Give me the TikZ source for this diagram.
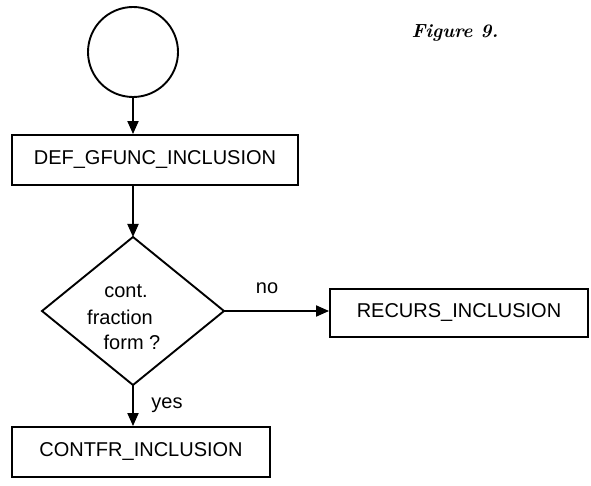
\documentclass[tikz,border=0pt]{standalone}
\usepackage{fontspec}
\setsansfont{Liberation Sans}
\usetikzlibrary{arrows.meta,shapes.geometric}
\begin{document}
\begin{tikzpicture}[x=1pt,y=-1pt,
  line width=1.9pt,
  txt/.style={font=\sffamily\fontsize{20}{22}\selectfont,inner sep=0pt},
  box/.style={draw,rectangle,txt},
  flow/.style={-{Triangle[length=13pt,width=11pt]}}]
\useasboundingbox (0,0) rectangle (591,486);
% start terminal
\node[draw,circle,minimum size=90pt,inner sep=0pt] (start) at (133,52) {};
% process boxes
\node[box,minimum width=286pt,minimum height=50pt] (def) at (155,160) {DEF\_GFUNC\_INCLUSION};
\node[box,minimum width=258pt,minimum height=50pt] (contfr) at (141,452) {CONTFR\_INCLUSION};
\node[box,minimum width=258pt,minimum height=48pt] (recurs) at (459,313) {RECURS\_INCLUSION};
% decision
\draw[line join=miter] (133,237) coordinate (dtop) -- (224,311) coordinate (dright)
  -- (133,385) coordinate (dbot) -- (42,311) coordinate (dleft) -- cycle;
\node[txt] (q1) at (126,291) {cont.};
\node[txt] (q2) at (120,317) {fraction};
\node[txt] (q3) at (132,342) {form ?};
% connectors
\draw[flow] (start.south) -- (start.south |- def.north);
\draw[flow] (def.south -| dtop) -- (dtop);
\draw[flow] (dbot) -- (dbot |- contfr.north);
\draw[flow] (dright) -- (recurs.west |- dright);
\node[txt] (no) at (267,288) {no};
\node[txt] (yes) at (167,405) {yes};
% caption
\node[font=\bfseries\itshape\fontsize{19}{22}\selectfont,inner sep=0pt] (cap) at (455,33) {Figure 9.};
\end{tikzpicture}
\end{document}
